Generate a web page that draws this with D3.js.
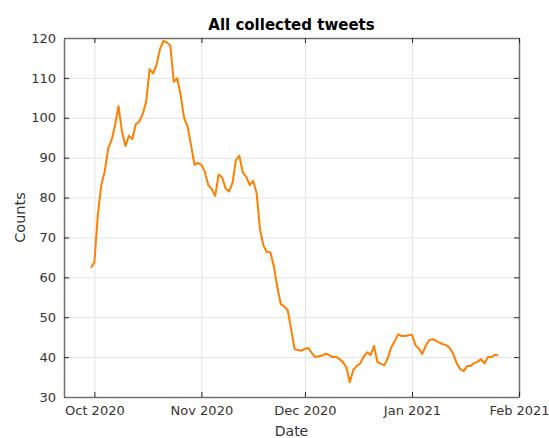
<!DOCTYPE html>
<html>
<head>
<meta charset="utf-8">
<script src="https://cdn.jsdelivr.net/npm/d3@7"></script>
<style>
  html, body { margin: 0; padding: 0; background: #fff; }
  svg { display: block; font-family: "DejaVu Sans", sans-serif; }
</style>
</head>
<body>
<svg id="chart" width="549" height="438"></svg>
<script>
// Daily tweet counts, one value per day starting on the first date below
const firstDay = "2020-09-30";
const counts = [
  62.4, 63.7, 75.6, 83.1, 86.5, 92.3, 94.4, 98.2, 102.9, 96.5,
  92.9, 95.5, 94.7, 98.4, 99.0, 100.9, 104.0, 112.2, 111.1, 113.2,
  117.2, 119.3, 118.9, 118.1, 109.0, 109.9, 105.7, 99.9, 97.8, 93.2,
  88.2, 88.7, 88.2, 86.5, 83.1, 82.1, 80.4, 85.8, 85.1, 82.3,
  81.5, 83.6, 89.4, 90.5, 86.3, 85.2, 83.1, 84.2, 81.1, 71.9,
  67.9, 66.3, 66.3, 62.7, 57.5, 53.3, 52.7, 51.8, 47.0, 42.0,
  41.8, 41.6, 42.1, 42.3, 41.0, 40.0, 40.2, 40.4, 40.9, 40.5,
  40.0, 40.1, 39.5, 38.8, 37.4, 33.7, 36.8, 37.8, 38.4, 40.1,
  41.2, 40.5, 42.8, 38.8, 38.3, 38.0, 39.7, 42.5, 44.0, 45.7,
  45.3, 45.3, 45.5, 45.6, 43.0, 42.1, 40.8, 42.9, 44.3, 44.5,
  44.1, 43.6, 43.2, 43.0, 42.2, 40.7, 38.3, 37.0, 36.5, 37.8,
  37.8, 38.5, 38.8, 39.5, 38.4, 40.0, 40.0, 40.6, 40.4
];

// Axis limits and ticks
const xLimits = ["2020-09-22T05:00:00Z", "2021-02-01T00:00:00Z"];
const xTickDates = ["2020-10-01", "2020-11-01", "2020-12-01", "2021-01-01", "2021-02-01"];
const xTickLabels = ["Oct 2020", "Nov 2020", "Dec 2020", "Jan 2021", "Feb 2021"];
const yLimits = [30, 120];
const yTicks = [30, 40, 50, 60, 70, 80, 90, 100, 110, 120];

const titleText = "All collected tweets";
const xLabelText = "Date";
const yLabelText = "Counts";

const svg = d3.select("#chart");
const W = 549, H = 438;
const margin = { left: 64, top: 38, right: 30, bottom: 41 };
const iw = W - margin.left - margin.right;
const ih = H - margin.top - margin.bottom;

svg.append("rect").attr("width", W).attr("height", H).attr("fill", "#fff");

const parse = d3.utcParse("%Y-%m-%d");
const start = parse(firstDay);
const series = counts.map((v, i) => ({ date: d3.utcDay.offset(start, i), value: v }));

const x = d3.scaleUtc()
  .domain(xLimits.map(s => new Date(s)))
  .range([0, iw]);
const y = d3.scaleLinear().domain(yLimits).range([ih, 0]);

const xTicks = xTickDates.map(parse);
const labelFor = d => xTickLabels[xTicks.findIndex(t => +t === +d)];

const g = svg.append("g").attr("transform", `translate(${margin.left},${margin.top})`);

// Grid lines
const gridColor = "#e3e3e3";
g.append("g")
  .attr("class", "grid-y")
  .call(d3.axisLeft(y).tickValues(yTicks).tickSize(-iw).tickFormat(""))
  .call(s => s.select(".domain").remove())
  .call(s => s.selectAll("line").attr("stroke", gridColor).attr("stroke-width", 1));
g.append("g")
  .attr("class", "grid-x")
  .attr("transform", `translate(0,${ih})`)
  .call(d3.axisBottom(x).tickValues(xTicks).tickSize(-ih).tickFormat(""))
  .call(s => s.select(".domain").remove())
  .call(s => s.selectAll("line").attr("stroke", gridColor).attr("stroke-width", 1));

// Data line
const line = d3.line().x(d => x(d.date)).y(d => y(d.value));
g.append("path")
  .datum(series)
  .attr("fill", "none")
  .attr("stroke", "#ff8000")
  .attr("stroke-width", 2)
  .attr("stroke-linejoin", "round")
  .attr("d", line);

// Axes with inward ticks on all four sides
const axisColor = "#6f6f6f";
const tickColor = "#262626";
const styleAxis = s => {
  s.select(".domain").attr("stroke", axisColor).attr("stroke-width", 1.5);
  s.selectAll(".tick line").attr("stroke", tickColor).attr("stroke-width", 1);
  s.selectAll("text").attr("fill", "#333").attr("font-size", 13)
    .attr("font-family", "DejaVu Sans, sans-serif");
};

g.append("g")
  .call(d3.axisLeft(y).tickValues(yTicks).tickSize(-5).tickPadding(8).tickSizeOuter(0))
  .call(styleAxis);
g.append("g")
  .attr("transform", `translate(${iw},0)`)
  .call(d3.axisRight(y).tickValues(yTicks).tickSize(-5).tickFormat("").tickSizeOuter(0))
  .call(styleAxis);
g.append("g")
  .attr("transform", `translate(0,${ih})`)
  .call(d3.axisBottom(x).tickValues(xTicks).tickSize(-5).tickPadding(9).tickSizeOuter(0).tickFormat(labelFor))
  .call(styleAxis);
g.append("g")
  .call(d3.axisTop(x).tickValues(xTicks).tickSize(-5).tickFormat("").tickSizeOuter(0))
  .call(styleAxis);

// Title and axis labels
svg.append("text")
  .attr("x", margin.left + iw / 2)
  .attr("y", 30)
  .attr("text-anchor", "middle")
  .attr("font-size", 15)
  .attr("font-weight", "bold")
  .attr("fill", "#000")
  .text(titleText);

svg.append("text")
  .attr("x", margin.left + iw / 2)
  .attr("y", 436)
  .attr("text-anchor", "middle")
  .attr("font-size", 14)
  .attr("fill", "#333")
  .text(xLabelText);

svg.append("text")
  .attr("transform", `translate(25,${margin.top + ih / 2}) rotate(-90)`)
  .attr("text-anchor", "middle")
  .attr("font-size", 14.5)
  .attr("fill", "#333")
  .text(yLabelText);
</script>
</body>
</html>
